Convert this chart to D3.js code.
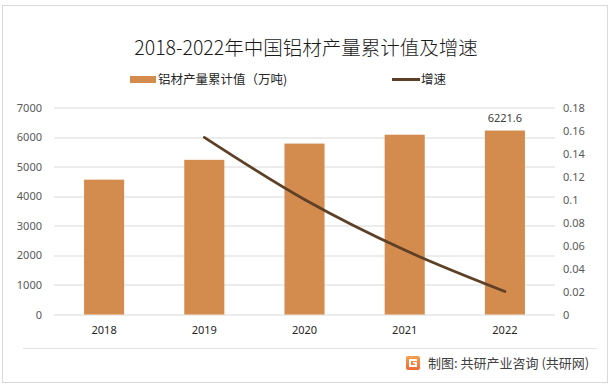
<!DOCTYPE html>
<html>
<head>
<meta charset="utf-8">
<script src="https://cdn.jsdelivr.net/npm/d3@7"></script>
<style>
  body { margin: 0; background: #fff; }
  svg { display: block; font-family: "Noto Sans CJK SC", "Noto Sans", sans-serif; }
</style>
</head>
<body>
<div class="chart"></div>
<script>
// data
var years = ["2018", "2019", "2020", "2021", "2022"];
var output = [4560, 5230, 5780, 6080, 6221.6];      // 万吨
var growth = [null, 0.154, 0.100, 0.056, 0.020];    // 增速
var leftTicks = [0, 1000, 2000, 3000, 4000, 5000, 6000, 7000];
var rightTicks = [0, 0.02, 0.04, 0.06, 0.08, 0.1, 0.12, 0.14, 0.16, 0.18];

var svgWidth = 611;
var svgHeight = 387;

var margin = { top: 107.5, right: 56, bottom: 72.5, left: 54 };
var width = svgWidth - margin.left - margin.right;
var height = svgHeight - margin.top - margin.bottom;

var barColor = "#D38B4E";
var lineColor = "#5E4027";

var svg = d3.select(".chart")
  .append("svg")
  .attr("width", svgWidth)
  .attr("height", svgHeight);

// outer frame
svg.append("rect")
  .attr("x", 2.5).attr("y", 5.5)
  .attr("width", 605).attr("height", 377)
  .attr("fill", "#fff")
  .attr("stroke", "#d9d9d9");

// title
svg.append("text")
  .attr("x", 306).attr("y", 55)
  .attr("text-anchor", "middle")
  .attr("font-size", 19.5)
  .attr("font-weight", 300)
  .attr("fill", "#1a1a1a")
  .text("2018-2022年中国铝材产量累计值及增速");

// legend
var legend = svg.append("g");
legend.append("rect")
  .attr("x", 130).attr("y", 76)
  .attr("width", 26).attr("height", 7)
  .attr("fill", barColor);
legend.append("text")
  .attr("x", 158).attr("y", 84)
  .attr("font-size", 12.5)
  .attr("fill", "#262626")
  .text("铝材产量累计值（万吨)");
legend.append("line")
  .attr("x1", 392).attr("x2", 420)
  .attr("y1", 79.5).attr("y2", 79.5)
  .attr("stroke", lineColor)
  .attr("stroke-width", 3);
legend.append("text")
  .attr("x", 421).attr("y", 84)
  .attr("font-size", 12.5)
  .attr("fill", "#262626")
  .text("增速");

var chartGroup = svg.append("g")
  .attr("transform", `translate(${margin.left}, ${margin.top})`);

// scales
var xBandScale = d3.scaleBand()
  .domain(years)
  .range([0, width])
  .paddingInner(0.6)
  .paddingOuter(0.3);

var yLeftScale = d3.scaleLinear()
  .domain([0, 7000])
  .range([height, 0]);

var yRightScale = d3.scaleLinear()
  .domain([0, 0.18])
  .range([height, 0]);

// gridlines
chartGroup.append("g")
  .selectAll("line")
  .data(leftTicks)
  .enter()
  .append("line")
  .attr("x1", 0).attr("x2", width)
  .attr("y1", d => Math.round(yLeftScale(d)) + 0.5)
  .attr("y2", d => Math.round(yLeftScale(d)) + 0.5)
  .attr("stroke", "#d9d9d9");

// left axis
var leftAxis = d3.axisLeft(yLeftScale)
  .tickValues(leftTicks)
  .tickFormat(d3.format("d"))
  .tickSize(0)
  .tickPadding(12);
var yAxisLeft = chartGroup.append("g").call(leftAxis);
yAxisLeft.select(".domain").remove();
yAxisLeft.selectAll("text")
  .attr("font-size", 11)
  .attr("font-family", "Noto Sans, sans-serif")
  .attr("fill", "#595959");

// right axis
var rightAxis = d3.axisRight(yRightScale)
  .tickValues(rightTicks)
  .tickFormat(d => String(+d.toFixed(2)))
  .tickSize(0)
  .tickPadding(8);
var yAxisRight = chartGroup.append("g")
  .attr("transform", `translate(${width}, 0)`)
  .call(rightAxis);
yAxisRight.select(".domain").remove();
yAxisRight.selectAll("text")
  .attr("font-size", 11)
  .attr("font-family", "Noto Sans, sans-serif")
  .attr("fill", "#595959");

// bars
chartGroup.selectAll(".bar")
  .data(output)
  .enter()
  .append("rect")
  .attr("class", "bar")
  .attr("x", (d, i) => xBandScale(years[i]))
  .attr("y", d => yLeftScale(d))
  .attr("width", xBandScale.bandwidth())
  .attr("height", d => height - yLeftScale(d))
  .attr("fill", barColor);

// data label on last bar
chartGroup.append("text")
  .attr("x", xBandScale(years[4]) + xBandScale.bandwidth() / 2)
  .attr("y", yLeftScale(output[4]) - 9)
  .attr("text-anchor", "middle")
  .attr("font-size", 11)
  .attr("font-family", "Noto Sans, sans-serif")
  .attr("fill", "#404040")
  .text("6221.6");

// x axis
var bottomAxis = d3.axisBottom(xBandScale).tickSize(0).tickPadding(12);
var xAxis = chartGroup.append("g")
  .attr("transform", `translate(0, ${height})`)
  .call(bottomAxis);
xAxis.select(".domain").remove();
xAxis.selectAll("text")
  .attr("font-size", 11)
  .attr("font-family", "Noto Sans, sans-serif")
  .attr("fill", "#262626");

// growth line
var lineGen = d3.line()
  .defined(d => d.v !== null)
  .x(d => xBandScale(d.y) + xBandScale.bandwidth() / 2)
  .y(d => yRightScale(d.v))
  .curve(d3.curveCatmullRom.alpha(0.5));

chartGroup.append("path")
  .datum(years.map((y, i) => ({ y: y, v: growth[i] })).filter(d => d.v !== null))
  .attr("d", lineGen)
  .attr("fill", "none")
  .attr("stroke", lineColor)
  .attr("stroke-width", 2.75)
  .attr("stroke-linecap", "round");

// footer
svg.append("line")
  .attr("x1", 23).attr("x2", 597)
  .attr("y1", 348.5).attr("y2", 348.5)
  .attr("stroke", "#e3e3e3");

var grad = svg.append("defs").append("linearGradient")
  .attr("id", "logoGrad")
  .attr("x1", 0).attr("y1", 0).attr("x2", 0).attr("y2", 1);
grad.append("stop").attr("offset", "0%").attr("stop-color", "#F7A04B");
grad.append("stop").attr("offset", "100%").attr("stop-color", "#EE6A3A");

var logo = svg.append("g").attr("transform", "translate(406, 356)");
logo.append("rect")
  .attr("width", 14).attr("height", 14).attr("rx", 2)
  .attr("fill", "url(#logoGrad)");
logo.append("path")
  .attr("d", "M3,3 H11 V5 H5 V9 H9 V7.5 H7 V6 H11 V11 H3 Z")
  .attr("fill", "#fff");

svg.append("text")
  .attr("x", 428).attr("y", 368)
  .attr("font-size", 13)
  .attr("fill", "#404040")
  .text("制图: 共研产业咨询 (共研网)");
</script>
</body>
</html>
